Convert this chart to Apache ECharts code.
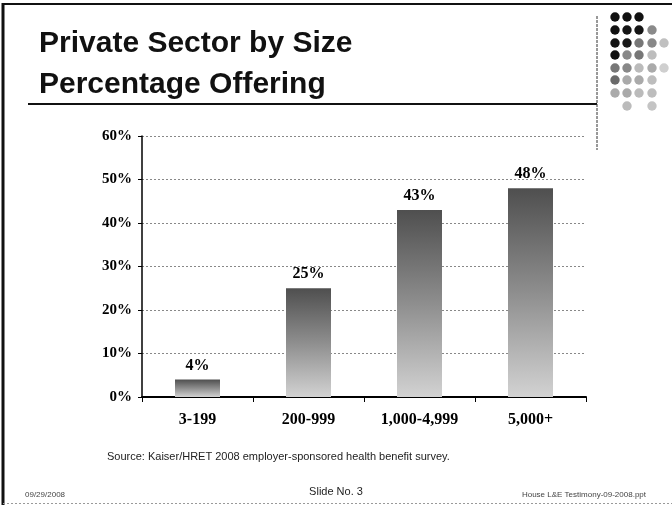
<!DOCTYPE html>
<html>
<head>
<meta charset="utf-8">
<script src="https://cdn.jsdelivr.net/npm/echarts@6/dist/echarts.min.js"></script>
<style>
  html, body { margin: 0; padding: 0; background: #fff; }
  #chart { width: 672px; height: 508px; }
</style>
</head>
<body>
<div id="chart"></div>
<script>
// Firm size groups and share of private-sector firms offering coverage (%)
var sizeGroups = ['3-199', '200-999', '1,000-4,999', '5,000+'];
var offeringPct = [4, 25, 43, 48];
var yTicks = { min: 0, max: 60, step: 10 };

// Decorative dot cluster in the top-right corner, one row per array
var dotColors = [
  ['#111', '#111', '#111'],
  ['#111', '#151515', '#151515', '#8a8a8a'],
  ['#151515', '#1a1a1a', '#777', '#888', '#c0c0c0'],
  ['#111', '#888', '#777', '#bdbdbd'],
  ['#777', '#888', '#bbb', '#aaa', '#cfcfcf'],
  ['#6a6a6a', '#aaa', '#aaa', '#bdbdbd'],
  ['#aaa', '#aaa', '#bbb', '#bdbdbd'],
  [null, '#bbb', null, '#c4c4c4']
];

var dots = [];
var dotX = [615, 627, 639, 652, 664];
var dotY = [17, 30, 43, 55, 68, 80, 93, 106];
dotColors.forEach(function (row, r) {
  row.forEach(function (c, i) {
    if (!c) return;
    dots.push({
      type: 'circle',
      shape: { cx: dotX[i], cy: dotY[r], r: 4.7 },
      style: { fill: c },
      silent: true
    });
  });
});

var serif = "'Liberation Serif', 'Times New Roman', serif";
var sans = "'Liberation Sans', Arial, sans-serif";

var barFill = new echarts.graphic.LinearGradient(0, 0, 0, 1, [
  { offset: 0, color: '#4f4f4f' },
  { offset: 0.5, color: '#8e8e8e' },
  { offset: 1, color: '#d2d2d2' }
]);

var chart = echarts.init(document.getElementById('chart'), null, { renderer: 'canvas' });

chart.setOption({
  backgroundColor: '#fff',
  animation: false,
  title: [
    {
      text: 'Private Sector by Size\nPercentage Offering',
      left: 34, top: 18,
      textStyle: { fontFamily: sans, fontWeight: 'bold', fontSize: 30, color: '#111', lineHeight: 41 }
    },
    {
      text: 'Source: Kaiser/HRET 2008 employer-sponsored health benefit survey.',
      left: 102, top: 446,
      textStyle: { fontFamily: sans, fontWeight: 'normal', fontSize: 11, color: '#222' }
    },
    {
      text: 'Slide No. 3',
      left: 'center', top: 481,
      textStyle: { fontFamily: sans, fontWeight: 'normal', fontSize: 11, color: '#222' }
    },
    {
      text: '09/29/2008',
      left: 20, top: 486,
      textStyle: { fontFamily: sans, fontWeight: 'normal', fontSize: 8, color: '#444' }
    },
    {
      text: 'House L&E Testimony-09-2008.ppt',
      right: 21, top: 486,
      textStyle: { fontFamily: sans, fontWeight: 'normal', fontSize: 8, color: '#444' }
    }
  ],
  graphic: [
    // slide frame
    { type: 'line', shape: { x1: 3, y1: 4, x2: 672, y2: 4 }, style: { stroke: '#111', lineWidth: 2 }, silent: true },
    { type: 'line', shape: { x1: 3, y1: 3, x2: 3, y2: 505 }, style: { stroke: '#111', lineWidth: 3 }, silent: true },
    { type: 'line', shape: { x1: 3, y1: 503.5, x2: 672, y2: 503.5 }, style: { stroke: '#999', lineWidth: 1, lineDash: [2, 2] }, silent: true },
    // title rule and side divider
    { type: 'line', shape: { x1: 28, y1: 104, x2: 597, y2: 104 }, style: { stroke: '#111', lineWidth: 2 }, silent: true },
    { type: 'line', shape: { x1: 597, y1: 16, x2: 597, y2: 150 }, style: { stroke: '#333', lineWidth: 1, lineDash: [3, 1] }, silent: true }
  ].concat(dots),
  grid: { left: 142, right: 86, top: 136, bottom: 111, containLabel: false },
  xAxis: {
    type: 'category',
    data: sizeGroups,
    axisLine: { lineStyle: { color: '#000', width: 2 } },
    axisTick: { show: true, length: 5, lineStyle: { color: '#000', width: 1 } },
    axisLabel: {
      margin: 15,
      fontFamily: serif, fontWeight: 'bold', fontSize: 16, color: '#000'
    }
  },
  yAxis: {
    type: 'value',
    min: yTicks.min, max: yTicks.max, interval: yTicks.step,
    axisLine: { show: true, lineStyle: { color: '#000', width: 1.5 } },
    axisTick: { show: true, length: 4, lineStyle: { color: '#000' } },
    axisLabel: {
      formatter: '{value}%', margin: 10,
      fontFamily: serif, fontWeight: 'bold', fontSize: 15, color: '#000'
    },
    splitLine: { show: true, lineStyle: { color: '#888', width: 1, type: [2, 2] } }
  },
  series: [{
    type: 'bar',
    data: offeringPct,
    barWidth: 45,
    itemStyle: { color: barFill },
    label: {
      show: true, position: 'top', distance: 6,
      formatter: '{c}%',
      fontFamily: serif, fontWeight: 'bold', fontSize: 16, color: '#000'
    }
  }]
});
</script>
</body>
</html>
